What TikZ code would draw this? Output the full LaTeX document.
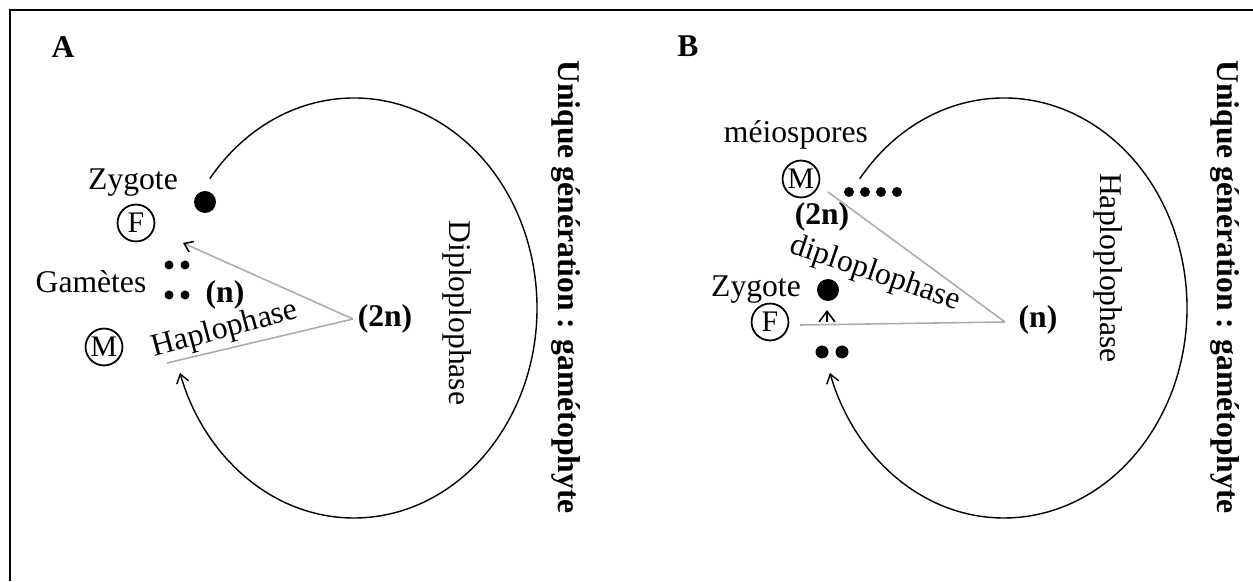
\documentclass[tikz,border=0pt]{standalone}
\usepackage{fontspec}
\setmainfont{Liberation Serif}
\usetikzlibrary{arrows.meta}

\tikzset{
    lbl/.style={font=\fontsize{18}{20}\selectfont, inner sep=0pt},
    blbl/.style={font=\fontsize{18}{20}\selectfont\bfseries, inner sep=0pt},
    circled/.style={draw, circle, line width=1pt, minimum size=21pt,
        inner sep=0pt, font=\fontsize{17}{18}\selectfont},
    cycle/.style={line width=0.8pt, -{Straight Barb[length=5pt,width=7pt]}},
    phase/.style={draw=gray!65, line width=0.9pt},
}

\begin{document}
\begin{tikzpicture}[x=0.02cm, y=0.02cm]

\useasboundingbox (0,0) rectangle (1253,581);

% Frame (top and left sides only)
\draw[line width=1.6pt] (10,0) -- (10,571) -- (1253,571);

% ---------------- A ----------------
\node[blbl] (labA) at (63,534) {A};

% Life cycle arc
\coordinate (arcA) at (209.8,402.3);
\draw[cycle] (arcA) arc[start angle=142, end angle=-162, x radius=183, y radius=210];

% Phase triangle
\coordinate (tipA) at (353,262);
\coordinate (topA) at (183,338);
\coordinate (lowA) at (167,218);
\draw[phase, -{Straight Barb[color=black,length=4.5pt,width=6.5pt]}] (tipA) -- (topA);
\draw[phase] (tipA) -- (lowA);

% Zygote and gametes
\node[lbl] (zygA) at (133,398) {Zygote};
\node[circled] (femA) at (136,358) {F};
\fill (205,379) circle (11);
\fill (169,316) circle (4.5) (185,316) circle (4.5);
\fill (169,286) circle (4.5) (185,286) circle (4.5);
\node[lbl] (gamA) at (91,299) {Gamètes};
\node[blbl] (nA) at (225,286) {(n)};
\node[circled] (malA) at (104,234) {M};
\node[lbl, rotate=15] (hapA) at (225,251) {Haplophase};
\node[blbl] (dnA) at (385,262) {(2n)};
\node[lbl, rotate=-90] (dipA) at (457,268) {Diploplophase};
\node[blbl, rotate=-90] (genA) at (566,294) {Unique génération : gamétophyte};

% ---------------- B ----------------
\node[blbl] (labB) at (688,535) {B};

% Life cycle arc
\coordinate (arcB) at (859.8,402.3);
\draw[cycle] (arcB) arc[start angle=142, end angle=-162, x radius=183, y radius=210];

% Phase triangle
\coordinate (tipB) at (1005,259);
\coordinate (topB) at (828,389);
\coordinate (lowB) at (800,256);
\draw[phase] (tipB) -- (topB);
\draw[phase] (tipB) -- (lowB);

% Meiospores
\node[lbl] (meiB) at (796,446) {méiospores};
\node[circled] (malB) at (801,402) {M};
\foreach \px in {849,865,881,897}
    \fill (\px,389) circle (5);
\node[blbl] (dnB) at (822,364) {(2n)};
\node[lbl, rotate=-19] (dipB) at (875,307) {diploplophase};

% Zygote and gametes
\node[lbl] (zygB) at (756,291) {Zygote};
\node[circled] (femB) at (770,259) {F};
\fill (828,291) circle (11);
\coordinate (caretB) at (827,259);
\draw[line width=0.9pt, -{Straight Barb[length=6pt,width=9pt]}] (caretB) -- ++(0,12);
\fill (822,229) circle (6.5) (842,229) circle (6.5);
\node[blbl] (nB) at (1038,261) {(n)};
\node[lbl, rotate=-90] (hapB) at (1108,313) {Haploplophase};
\node[blbl, rotate=-90] (genB) at (1225,294) {Unique génération : gamétophyte};

\end{tikzpicture}
\end{document}
